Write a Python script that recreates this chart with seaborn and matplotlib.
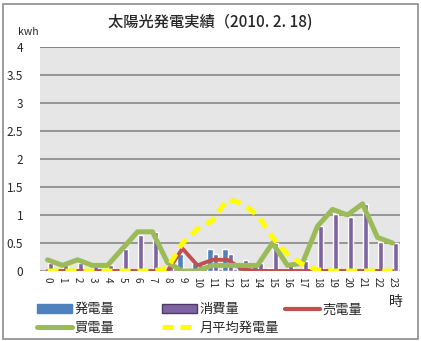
import matplotlib
matplotlib.use("Agg")
import matplotlib.pyplot as plt
import seaborn as sns
import pandas as pd
from matplotlib.patches import Rectangle, Patch
from matplotlib.lines import Line2D

hours = [str(h) for h in range(24)]
generation = [0, 0, 0, 0, 0, 0, 0, 0, 0.05, 0.3, 0.15, 0.4, 0.4, 0.15, 0.1, 0.05, 0.02, 0, 0, 0, 0, 0, 0, 0]
consumption = [0.15, 0.1, 0.15, 0.1, 0.1, 0.4, 0.65, 0.7, 0.1, 0.05, 0.1, 0.3, 0.3, 0.2, 0.15, 0.5, 0.15, 0.18, 0.8, 1.02, 0.97, 1.2, 0.52, 0.5]
sold = [0, 0, 0, 0, 0, 0, 0, 0, 0, 0.4, 0.1, 0.2, 0.2, 0.03, 0, 0, 0, 0, 0, 0, 0, 0, 0, 0]
bought = [0.2, 0.1, 0.2, 0.1, 0.1, 0.4, 0.7, 0.7, 0.15, 0, 0, 0.1, 0.1, 0.1, 0.1, 0.5, 0.1, 0.14, 0.8, 1.1, 1.0, 1.2, 0.6, 0.5]
monthly_avg = [0, 0, 0, 0, 0, 0, 0, 0, 0.05, 0.5, 0.75, 0.9, 1.28, 1.2, 1.0, 0.6, 0.3, 0.12, 0.02, 0, 0, 0, 0, 0]
series_names = ["発電量", "消費量", "売電量", "買電量", "月平均発電量"]
yticks = [0, 0.5, 1, 1.5, 2, 2.5, 3, 3.5, 4]
ytick_labels = ["0", "0.5", "1", "1.5", "2", "2.5", "3", "3.5", "4"]
title = "太陽光発電実績（2010. 2. 18)"

sns.set_style("white")
plt.rcParams["font.family"] = ["Noto Sans CJK JP", "DejaVu Sans"]

c_gen = "#4F81BD"
c_con = "#8064A2"
c_sold = "#C0504D"
c_buy = "#9BBB59"
c_avg = "#FFFF00"

fig = plt.figure(figsize=(4.21, 3.41), dpi=100)
ax = fig.add_axes([40/421, 70/341, 360/421, 224/341])
ax.set_facecolor("#E6E6E6")

bars = pd.DataFrame({
    "hour": hours * 2,
    "value": generation + consumption,
    "series": [series_names[0]] * 24 + [series_names[1]] * 24,
})
sns.barplot(data=bars, x="hour", y="value", hue="series", order=hours,
            hue_order=series_names[:2], palette=[c_gen, c_con], width=0.72,
            dodge=True, saturation=1, legend=False, ax=ax, zorder=2)

xpos = list(range(24))
sns.lineplot(x=xpos, y=sold, color=c_sold, linewidth=2.8, ax=ax, zorder=3)
sns.lineplot(x=xpos, y=bought, color=c_buy, linewidth=3.6, ax=ax, zorder=4)
sns.lineplot(x=xpos, y=monthly_avg, color=c_avg, linewidth=3.6, ax=ax, zorder=5)
ax.lines[-1].set_dashes([2.2, 1.4])
for ln in ax.lines:
    ln.set_solid_joinstyle("round")

ax.set_xlim(-0.5, 23.5)
ax.set_ylim(0, 4)
ax.set_yticks(yticks)
ax.set_yticklabels(ytick_labels, fontsize=8.5)
ax.yaxis.grid(True, color="#808080", linewidth=1.1, zorder=0)
ax.set_axisbelow(True)
ax.set_xticks(xpos)
ax.set_xticklabels(hours, rotation=270, fontsize=7)
ax.tick_params(axis="both", length=0, pad=4)
ax.tick_params(axis="y", pad=12)
ax.set_xlabel("")
ax.set_ylabel("")
for s in ax.spines.values():
    s.set_visible(False)
ax.axhline(4, color="#808080", linewidth=1.1, zorder=1)

fig.text(210/421, 1 - 22/341, title, ha="center", va="center", fontsize=11, fontweight="medium")
fig.text(18/421, 1 - 32/341, "kwh", ha="left", va="center", fontsize=7.5)
fig.text(396/421, 1 - 302/341, "時", ha="center", va="center", fontsize=10)

h_gen = Patch(facecolor=c_gen, edgecolor=c_gen)
h_con = Patch(facecolor=c_con, edgecolor="#4a3a66")
h_sold = Line2D([], [], color=c_sold, linewidth=3.0)
h_buy = Line2D([], [], color=c_buy, linewidth=3.6)
h_avg = Line2D([], [], color=c_avg, linewidth=3.6, dashes=[2.2, 1.4])

columns = [
    ([h_gen, h_buy], [series_names[0], series_names[3]], 28),
    ([h_con, h_avg], [series_names[1], series_names[4]], 153),
    ([h_sold], [series_names[2]], 276),
]
for hs, ls, x0 in columns:
    leg = fig.legend(hs, ls, ncol=1, loc="upper left",
                     bbox_to_anchor=(x0/421, 1 - 294/341), frameon=False,
                     fontsize=9.5, handlelength=2.6, handleheight=0.6,
                     handletextpad=0.25, labelspacing=0.4, borderpad=0.2)

fig.patches.append(Rectangle((3/421, 2/341), 415/421, 335/341, transform=fig.transFigure,
                             fill=False, edgecolor="#8c8c8c", linewidth=1.2))

fig.savefig("out.png", dpi=100)
